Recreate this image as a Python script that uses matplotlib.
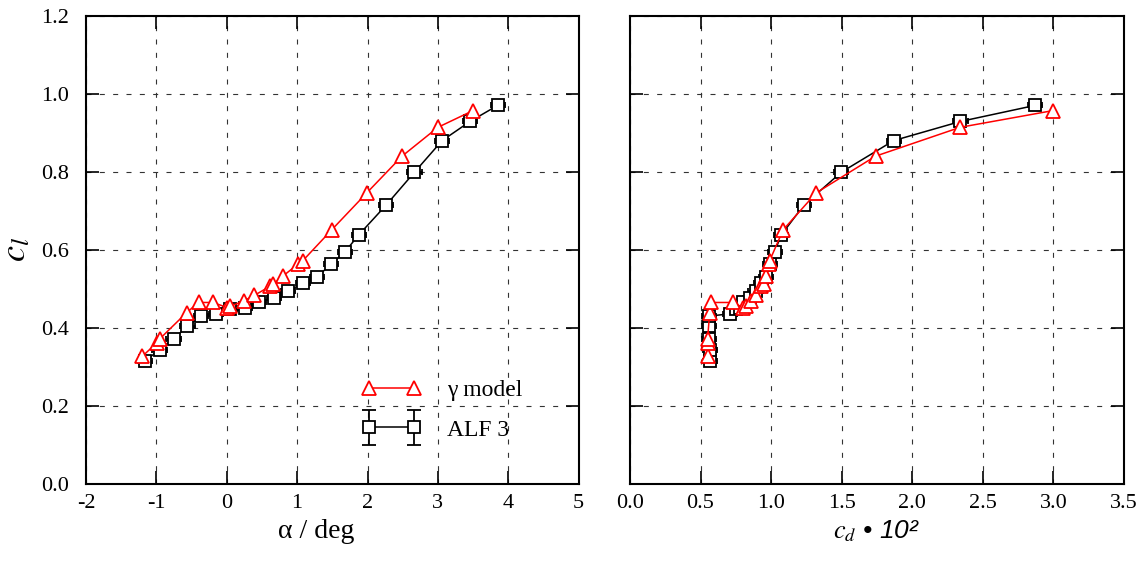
import numpy as np
import matplotlib
matplotlib.use("Agg")
import matplotlib.pyplot as plt
from matplotlib.legend_handler import HandlerErrorbar

plt.rcParams['font.family'] = ['Liberation Serif', 'DejaVu Serif']
plt.rcParams['mathtext.fontset'] = 'stix'

# ALF 3 (measurements)
alf_alpha = [-1.16, -0.955, -0.756, -0.558, -0.364, -0.156, 0.047, 0.259, 0.462, 0.670, 0.873,
             1.077, 1.284, 1.482, 1.680, 1.874, 2.266, 2.667, 3.060, 3.456, 3.847]
alf_cl = [0.316, 0.343, 0.372, 0.404, 0.430, 0.436, 0.447, 0.452, 0.466, 0.477, 0.494,
          0.514, 0.531, 0.563, 0.595, 0.638, 0.715, 0.799, 0.880, 0.929, 0.970]
alf_cd = [0.57, 0.565, 0.56, 0.56, 0.56, 0.71, 0.75, 0.78, 0.80, 0.85, 0.89,
          0.93, 0.965, 0.99, 1.025, 1.072, 1.233, 1.498, 1.869, 2.342, 2.869]
alf_alpha_err = 0.1
alf_cd_err = 0.05

# gamma model
gam_alpha = [-1.20, -0.99, -0.95, -0.57, -0.40, -0.20, 0.01, 0.05, 0.24, 0.39,
             0.61, 0.66, 0.80, 1.01, 1.08, 1.49, 1.99, 2.49, 3.00, 3.50]
gam_cl = [0.327, 0.362, 0.372, 0.439, 0.465, 0.465, 0.452, 0.455, 0.469, 0.483,
          0.506, 0.512, 0.533, 0.563, 0.572, 0.651, 0.746, 0.840, 0.914, 0.957]
gam_cd = [0.55, 0.55, 0.55, 0.565, 0.575, 0.73, 0.80, 0.82, 0.855, 0.89,
          0.93, 0.95, 0.965, 0.985, 0.99, 1.085, 1.32, 1.74, 2.34, 3.00]

fig = plt.figure(figsize=(11.46, 5.62), dpi=100)
ax1 = fig.add_axes([0.075, 0.139, 0.430, 0.833])
ax2 = fig.add_axes([0.5497, 0.139, 0.431, 0.833])

alf_style = dict(color='black', marker='s', markersize=8.5, markerfacecolor='white',
                 markeredgewidth=1.3, linewidth=1.1, ecolor='black', elinewidth=2.0,
                 capsize=2.2, capthick=1.3)
gam_style = dict(color='red', marker='^', markersize=10, markerfacecolor='white',
                 markeredgewidth=1.3, linewidth=1.1)

ax1.errorbar(alf_alpha, alf_cl, xerr=alf_alpha_err, zorder=3, **alf_style)
ax1.plot(gam_alpha, gam_cl, zorder=4, **gam_style)
ax2.errorbar(alf_cd, alf_cl, xerr=alf_cd_err, zorder=3, **alf_style)
ax2.plot(gam_cd, gam_cl, zorder=4, **gam_style)

ax1.set_xlim(-2, 5)
ax1.set_xticks(np.arange(-2, 6, 1))
ax1.set_xticklabels(['-2', '-1', '0', '1', '2', '3', '4', '5'])
ax2.set_xlim(0, 3.5)
ax2.set_xticks(np.arange(0, 3.51, 0.5))
ax2.set_xticklabels(['%.1f' % v for v in np.arange(0, 3.51, 0.5)])

for ax in (ax1, ax2):
    ax.set_ylim(0, 1.2)
    ax.set_yticks(np.arange(0, 1.21, 0.2))
    ax.set_yticklabels(['%.1f' % v for v in np.arange(0, 1.21, 0.2)])
    ax.grid(True, color='0.2', linestyle=(0, (4.5, 7.5)), linewidth=0.8, zorder=0)
    ax.set_axisbelow(True)
    ax.tick_params(direction='in', length=9.5, width=1.2, top=True, right=True,
                   labelsize=16, colors='black')
    ax.tick_params(axis='x', pad=7)
    ax.tick_params(axis='y', pad=12)
    for s in ax.spines.values():
        s.set_linewidth(1.5)

ax2.tick_params(labelleft=False)

ax1.set_xlabel('α / deg', fontsize=20, labelpad=4)
ax1.xaxis.set_label_coords(0.467, -0.075)
ax1.set_ylabel(r'$c_l$', fontsize=26, labelpad=6)
ax2.set_xlabel(r'$c_d$ • 10²', fontsize=19, fontstyle='italic', family='Liberation Sans', labelpad=4)

# legend proxies
h_gam, = ax1.plot([], [], **gam_style)
h_alf = ax1.errorbar([np.nan], [np.nan], yerr=[1.0], color='black', marker='s', markersize=8.5,
                     markerfacecolor='white', markeredgewidth=1.3, linewidth=1.1,
                     ecolor='black', elinewidth=1.3, capsize=5, capthick=1.3)
ax1.legend([h_gam, h_alf], ['γ model', 'ALF 3'], loc='upper left',
           bbox_to_anchor=(0.56, 0.222), frameon=False, fontsize=17, numpoints=2,
           handlelength=2.5, handletextpad=1.1, labelspacing=0.75, borderpad=0,
           borderaxespad=0,
           handler_map={type(h_alf): HandlerErrorbar(yerr_size=0.75)})

fig.savefig('out.png', dpi=100)
